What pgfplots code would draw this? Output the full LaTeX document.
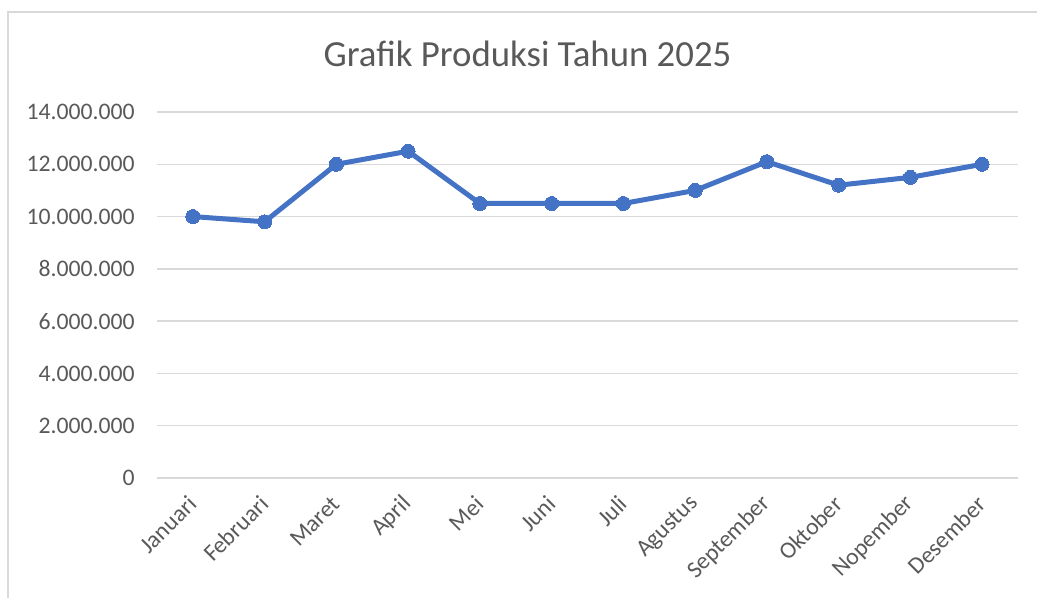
\documentclass[border=0pt]{standalone}
\usepackage{pgfplots}
\pgfplotsset{compat=1.18}
\usepackage{fontspec}
\setmainfont{Carlito}
\definecolor{linecol}{HTML}{4472C4}
\definecolor{gridcol}{HTML}{D9D9D9}
\definecolor{textcol}{HTML}{595959}
\begin{document}
\begin{tikzpicture}
\path[use as bounding box] (0,0) rectangle (518.5pt,299pt);
\draw[gridcol, line width=1pt] (4pt,0) -- (4pt,293pt) -- (518.5pt,293pt);
\node[text=textcol, font=\fontsize{18.4pt}{22pt}\selectfont, anchor=base] at (263.75pt,265.5pt) {Grafik Produksi Tahun 2025};
\begin{axis}[
  at={(78.5pt,60pt)}, anchor=south west,
  scale only axis, width=430.5pt, height=183pt,
  xmin=-0.5, xmax=11.5, ymin=0, ymax=14000000,
  xtick={0,...,11},
  xticklabels={Januari,Februari,Maret,April,Mei,Juni,Juli,Agustus,September,Oktober,Nopember,Desember},
  ytick={0,2000000,4000000,6000000,8000000,10000000,12000000,14000000},
  yticklabels={0,2.000.000,4.000.000,6.000.000,8.000.000,10.000.000,12.000.000,14.000.000},
  scaled y ticks=false,
  axis line style={draw=none},
  major tick length=0pt,
  ymajorgrids, grid style={gridcol, line width=0.75pt},
  tick label style={text=textcol, font=\fontsize{11.85pt}{14pt}\selectfont, inner sep=0pt},
  yticklabel style={anchor=east},
  yticklabel shift=11pt,
  xticklabel style={rotate=45, anchor=east},
  xticklabel shift=11pt,
  clip=false,
]
\addplot[linecol, line width=2.5pt, mark=*, mark size=3.5pt, mark options={fill=linecol, draw=linecol, line width=0pt}]
coordinates {
(0,10000000) (1,9800000) (2,12000000) (3,12500000) (4,10500000) (5,10500000)
(6,10500000) (7,11000000) (8,12100000) (9,11200000) (10,11500000) (11,12000000)
};
\end{axis}
\end{tikzpicture}
\end{document}
